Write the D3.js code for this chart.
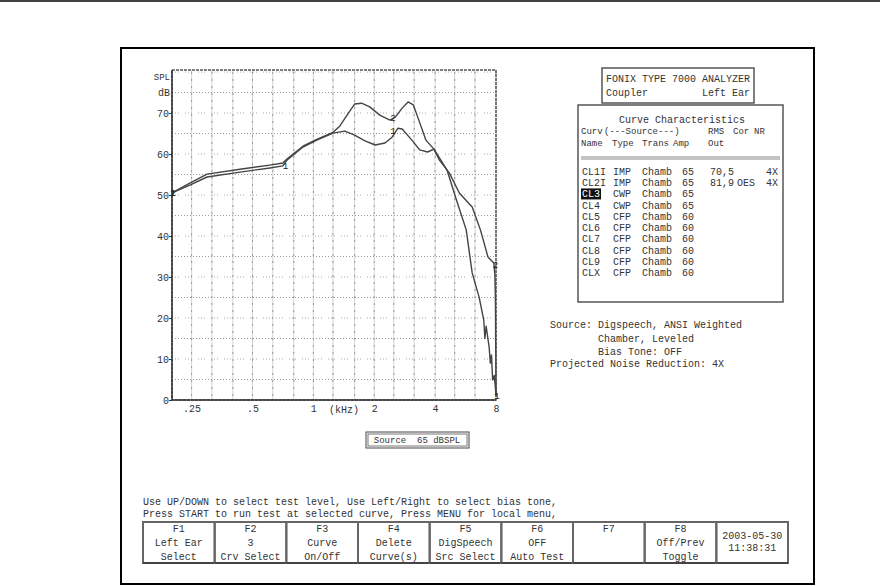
<!DOCTYPE html>
<html>
<head>
<meta charset="utf-8">
<script src="https://cdn.jsdelivr.net/npm/d3@7"></script>
<style>
body { margin: 0; background: #fff; }
svg { display: block; }
text { font-family: "Liberation Mono", monospace; font-size: 10px; fill: #333; white-space: pre; }
</style>
</head>
<body>
<svg width="889" height="586"></svg>
<script>
// Response curves, [kHz, dB SPL].
var curve1 = [[0.2,50.5],[0.245,52.4],[0.298,54.4],[0.434,55.6],[0.61,56.6],[0.707,57.1],[0.74,58.5],
    [0.888,61.7],[1.04,63.4],[1.25,65.1],[1.43,65.6],[1.6,64.6],[1.8,63.2],[2.02,62.2],[2.26,62.7],
    [2.45,64.1],[2.62,66.3],[2.75,66.1],[3.07,63.4],[3.36,61.0],[3.67,60.5],[3.95,61.2],[4.58,56.1],
    [5.1,48.8],[5.7,41.5],[6.1,31],[6.6,25.1],[6.96,19.5],[7.05,15],[7.15,18],[7.4,12.9],[7.5,9],
    [7.6,11],[7.7,4.9],[7.85,6],[8,1.2]];
var curve2 = [[0.2,50.5],[0.245,52.9],[0.298,55.1],[0.434,56.3],[0.61,57.3],[0.707,57.8],[0.74,58.8],
    [0.888,61.9],[1.04,63.6],[1.25,65.3],[1.35,66.8],[1.49,70],[1.6,72.2],[1.73,72.4],[1.9,71.5],
    [2.13,69.5],[2.39,68.3],[2.54,69],[2.75,71.2],[2.94,72.7],[3.12,72],[3.36,67.6],[3.6,63.4],
    [3.95,61.2],[4.2,58.5],[4.7,55.4],[5.27,50.5],[6.1,47.1],[6.7,41.5],[7.3,34.9],[7.8,33.4],
    [7.9,30.5],[7.95,24],[7.97,15],[7.99,8],[8,1]];

// Curve number labels sitting on the curves.
var markerText = ["1", "2", "1", "1", "2", "2", "1"];
var markerFreq = [0.2, 0.2, 0.72, 2.45, 2.45, 7.85, 8];
var markerDb = [50.5, 50.5, 57.2, 65.5, 68.8, 33, 1];

// Axes.
var yTicks = [0, 10, 20, 30, 40, 50, 60, 70];
var xTicks = [0.25, 0.5, 1, 2, 4, 8];
var xTickLabels = [".25", ".5", "1", "2", "4", "8"];
var thirdOctaves = [0.25, 0.315, 0.4, 0.5, 0.63, 0.8, 1, 1.25, 1.6, 2, 2.5, 3.15, 4, 5, 6.3, 8];
var gridDb = [5, 10, 15, 20, 25, 30, 35, 40, 45, 50, 55, 60, 65, 70, 75, 80];

// Curve characteristics table.
var curveNames = ["CL1I", "CL2I", "CL3", "CL4", "CL5", "CL6", "CL7", "CL8", "CL9", "CLX"];
var curveTypes = ["IMP", "IMP", "CWP", "CWP", "CFP", "CFP", "CFP", "CFP", "CFP", "CFP"];
var curveTrans = ["Chamb", "Chamb", "Chamb", "Chamb", "Chamb", "Chamb", "Chamb", "Chamb", "Chamb", "Chamb"];
var curveAmps = ["65", "65", "65", "65", "60", "60", "60", "60", "60", "60"];
var curveRms = ["70,5", "81,9", "", "", "", "", "", "", "", ""];
var curveCor = ["", "OES", "", "", "", "", "", "", "", ""];
var curveNr = ["4X", "4X", "", "", "", "", "", "", "", ""];
var headTop = ["Curv", "(---Source---)", "RMS", "Cor", "NR"];
var headTopX = [581, 604, 708, 733, 754];
var headBottom = ["Name", "Type", "Trans", "Amp", "Out"];
var headBottomX = [581, 612, 642, 673, 708];

// Function keys.
var keyNames = ["F1", "F2", "F3", "F4", "F5", "F6", "F7", "F8", ""];
var keyLine1 = ["Left Ear", "3", "Curve", "Delete", "DigSpeech", "OFF", "", "Off/Prev", "2003-05-30"];
var keyLine2 = ["Select", "Crv Select", "On/Off", "Curve(s)", "Src Select", "Auto Test", "", "Toggle", "11:38:31"];

var svg = d3.select("svg");

// Page rule and outer frame.
svg.append("line").attr("x1", 0).attr("x2", 880).attr("y1", 1).attr("y2", 1)
    .attr("stroke", "#000").attr("stroke-width", 1.5);
svg.append("rect").attr("x", 121).attr("y", 48).attr("width", 693).attr("height", 536)
    .attr("fill", "none").attr("stroke", "#000").attr("stroke-width", 2);

// Scales.
var x = d3.scaleLog().domain([0.2, 8]).range([172, 496]);
var y = d3.scaleLinear().domain([0, 80.5]).range([400, 70]);

// Grid.
var grid = svg.append("g");
grid.selectAll(".v").data(thirdOctaves).enter().append("line")
    .attr("x1", d => x(d)).attr("x2", d => x(d)).attr("y1", 70).attr("y2", 400)
    .attr("stroke", "#d4d4d4").attr("stroke-width", 1);
grid.selectAll(".vd").data(thirdOctaves).enter().append("line")
    .attr("x1", d => x(d)).attr("x2", d => x(d)).attr("y1", 72).attr("y2", 400)
    .attr("stroke", "#999").attr("stroke-width", 1).attr("stroke-dasharray", "2,5");
grid.selectAll(".h").data(gridDb).enter().append("line")
    .attr("x1", 172).attr("x2", 496).attr("y1", d => y(d)).attr("y2", d => y(d))
    .attr("stroke", d => d % 10 === 0 ? "#aaa" : "#999").attr("stroke-width", 1)
    .attr("stroke-dasharray", d => d % 10 === 0 ? "1,2,1,2,1,6" : "1,2");

// Plot frame.
svg.append("rect").attr("x", 172).attr("y", 70).attr("width", 324).attr("height", 330)
    .attr("fill", "none").attr("stroke", "#555").attr("stroke-width", 1.5).attr("stroke-dasharray", "3,1");
svg.append("line").attr("x1", 172).attr("x2", 172).attr("y1", 70).attr("y2", 400)
    .attr("stroke", "#333").attr("stroke-width", 1.5);
svg.append("line").attr("x1", 172).attr("x2", 496).attr("y1", 400).attr("y2", 400)
    .attr("stroke", "#333").attr("stroke-width", 1.5);

// Axes.
var yAxis = svg.append("g").attr("transform", "translate(172,0)")
    .call(d3.axisLeft(y).tickValues(yTicks).tickSize(3).tickPadding(0));
var xAxis = svg.append("g").attr("transform", "translate(0,402)")
    .call(d3.axisBottom(x).tickValues(xTicks).tickSize(0).tickPadding(3)
        .tickFormat((d, i) => xTickLabels[i]));
[yAxis, xAxis].forEach(function (g) {
    g.select(".domain").remove();
    g.selectAll("line").attr("stroke", "#333");
    g.selectAll("text").attr("font-family", null).attr("font-size", null).attr("fill", "#333");
});
svg.append("text").attr("x", 344).attr("y", 413).attr("text-anchor", "middle").text("(kHz)");
svg.append("text").attr("x", 170).attr("y", 80).attr("text-anchor", "end").style("font-size", "9px").text("SPL");
svg.append("text").attr("x", 170).attr("y", y(75) + 3).attr("text-anchor", "end").text("dB");

// Curves.
var line = d3.line().x(d => x(d[0])).y(d => y(d[1]));
[curve1, curve2].forEach(function (c) {
    svg.append("path").datum(c).attr("d", line)
        .attr("fill", "none").attr("stroke", "#444").attr("stroke-width", 1.4)
        .attr("stroke-linejoin", "round");
});
svg.selectAll(".mk").data(markerText).enter().append("text")
    .attr("x", (d, i) => x(markerFreq[i]) + 1).attr("y", (d, i) => y(markerDb[i]) + 3)
    .attr("text-anchor", "middle").style("font-size", "9px").style("fill", "#222")
    .text(d => d);

// Source box under the chart.
svg.append("rect").attr("x", 366).attr("y", 432).attr("width", 103).attr("height", 16)
    .attr("fill", "none").attr("stroke", "#444").attr("stroke-width", 1);
svg.append("rect").attr("x", 368).attr("y", 434).attr("width", 99).attr("height", 12)
    .attr("fill", "none").attr("stroke", "#777").attr("stroke-width", 1);
svg.append("text").attr("x", 417).attr("y", 443).attr("text-anchor", "middle")
    .style("font-size", "9px").text("Source  65 dBSPL");

// Analyzer title box.
svg.append("rect").attr("x", 602).attr("y", 68).attr("width", 152).attr("height", 35)
    .attr("fill", "none").attr("stroke", "#555").attr("stroke-width", 1.5);
svg.append("text").attr("x", 606).attr("y", 82).text("FONIX TYPE 7000 ANALYZER");
svg.append("text").attr("x", 606).attr("y", 96).text("Coupler");
svg.append("text").attr("x", 750).attr("y", 96).attr("text-anchor", "end").text("Left Ear");

// Curve characteristics box.
svg.append("rect").attr("x", 578).attr("y", 105).attr("width", 205).attr("height", 197)
    .attr("fill", "none").attr("stroke", "#555").attr("stroke-width", 1.5);
svg.append("text").attr("x", 682).attr("y", 123).attr("text-anchor", "middle").text("Curve Characteristics");
svg.selectAll(".ht").data(headTop).enter().append("text")
    .attr("x", (d, i) => headTopX[i]).attr("y", 134).style("font-size", "9px").text(d => d);
svg.selectAll(".hb").data(headBottom).enter().append("text")
    .attr("x", (d, i) => headBottomX[i]).attr("y", 146).style("font-size", "9px").text(d => d);
svg.append("line").attr("x1", 581).attr("x2", 780).attr("y1", 157).attr("y2", 157).attr("stroke", "#888");
svg.append("line").attr("x1", 581).attr("x2", 780).attr("y1", 159).attr("y2", 159).attr("stroke", "#888");

var rowY = d3.scaleLinear().domain([0, 9]).range([175, 276]);
svg.append("rect").attr("x", 581).attr("y", rowY(2) - 9).attr("width", 20).attr("height", 11).attr("fill", "#111");
var cols = [[582, curveNames], [613, curveTypes], [642, curveTrans], [682, curveAmps],
    [710, curveRms], [737, curveCor], [766, curveNr]];
cols.forEach(function (c) {
    svg.selectAll(null).data(c[1]).enter().append("text")
        .attr("x", c[0]).attr("y", (d, i) => rowY(i))
        .style("fill", (d, i) => (c[0] === 582 && i === 2) ? "#fff" : "#333")
        .text(d => d);
});

// Source description.
svg.append("text").attr("x", 550).attr("y", 328).text("Source: Digspeech, ANSI Weighted");
svg.append("text").attr("x", 598).attr("y", 342).text("Chamber, Leveled");
svg.append("text").attr("x", 598).attr("y", 355).text("Bias Tone: OFF");
svg.append("text").attr("x", 550).attr("y", 367).text("Projected Noise Reduction: 4X");

// Instruction lines.
svg.append("text").attr("x", 143).attr("y", 505)
    .text("Use UP/DOWN to select test level, Use Left/Right to select bias tone,");
svg.append("text").attr("x", 143).attr("y", 517)
    .text("Press START to run test at selected curve, Press MENU for local menu,");

// Function key row.
var kx = d3.scaleLinear().domain([0, 9]).range([143, 788]);
var keys = svg.selectAll(".key").data(keyNames).enter().append("g")
    .attr("transform", (d, i) => "translate(" + kx(i) + ",522)");
var kw = kx(1) - kx(0);
keys.append("rect").attr("width", kw).attr("height", 41)
    .attr("fill", "none").attr("stroke", "#666").attr("stroke-width", 2);
keys.append("line").attr("x1", 0).attr("x2", kw).attr("y1", 41).attr("y2", 41)
    .attr("stroke", "#444").attr("stroke-width", 2);
keys.append("text").attr("x", kw / 2).attr("y", 10).attr("text-anchor", "middle").text(d => d);
keys.append("text").attr("x", kw / 2).attr("y", (d, i) => i === 8 ? 17 : 24)
    .attr("text-anchor", "middle").text((d, i) => keyLine1[i]);
keys.append("text").attr("x", kw / 2).attr("y", (d, i) => i === 8 ? 29 : 38)
    .attr("text-anchor", "middle").text((d, i) => keyLine2[i]);
</script>
</body>
</html>
